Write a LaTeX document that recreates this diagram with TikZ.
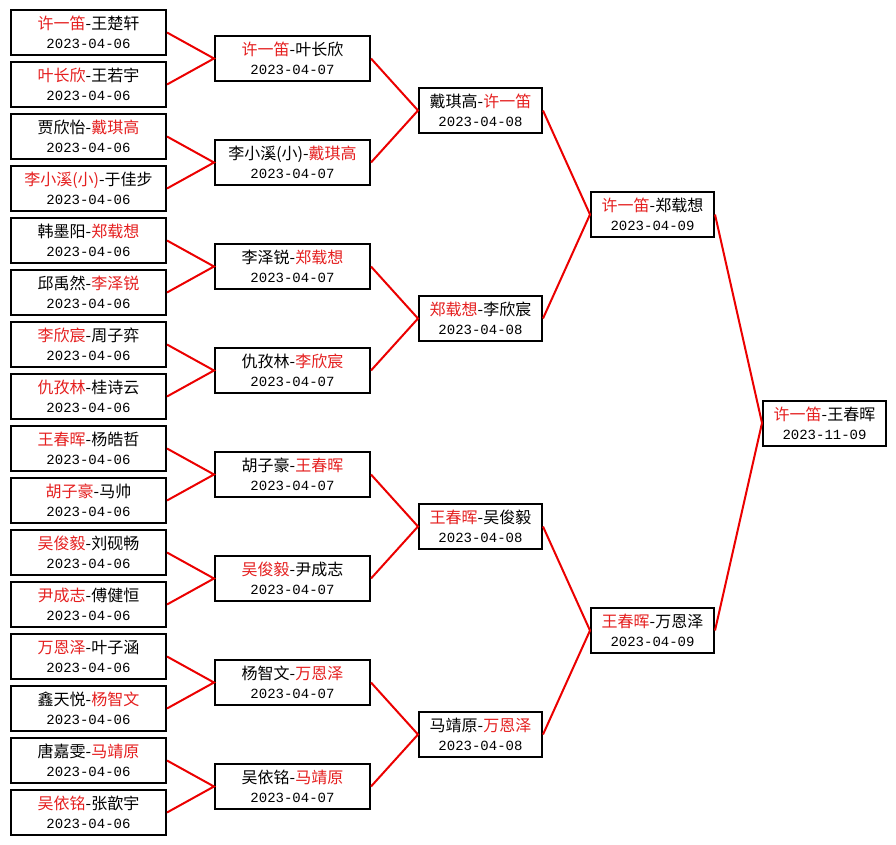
\documentclass[tikz,border=0pt]{standalone}
\usepackage{fontspec}
\setmainfont{Noto Sans CJK SC}
\newfontfamily\datefont{Liberation Mono}

\definecolor{winred}{rgb}{0.90,0.12,0.12}
\definecolor{linkred}{rgb}{0.92,0,0}

\newcommand{\winner}[1]{{\color{winred}#1}}
\newcommand{\gdate}[1]{{\datefont\fontsize{10.5}{14}\selectfont #1}}

\tikzset{every picture/.style={line width=0.75pt}}
\tikzset{
  game/.style={draw, line width=1.5pt, fill=white, inner sep=0pt, align=center,
    minimum height=33.75pt, font=\fontsize{12}{14}\selectfont},
  wide/.style={game, minimum width=116.25pt},
  narrow/.style={game, minimum width=92.25pt},
  link/.style={draw=linkred, line width=1.5pt}
}

\begin{document}
\begin{tikzpicture}[x=0.75pt,y=0.75pt,yscale=-1,xscale=1]
\useasboundingbox (0,0) rectangle (896,845); %set diagram size 896 x 845

% Round 1
\node [wide] (r1n1) at (88.5,32.5) {\winner{许一笛}-王楚轩\\\gdate{2023-04-06}};
\node [wide] (r1n2) at (88.5,84.5) {\winner{叶长欣}-王若宇\\\gdate{2023-04-06}};
\node [wide] (r1n3) at (88.5,136.5) {贾欣怡-\winner{戴琪高}\\\gdate{2023-04-06}};
\node [wide] (r1n4) at (88.5,188.5) {\winner{李小溪(小)}-于佳步\\\gdate{2023-04-06}};
\node [wide] (r1n5) at (88.5,240.5) {韩墨阳-\winner{郑载想}\\\gdate{2023-04-06}};
\node [wide] (r1n6) at (88.5,292.5) {邱禹然-\winner{李泽锐}\\\gdate{2023-04-06}};
\node [wide] (r1n7) at (88.5,344.5) {\winner{李欣宸}-周子弈\\\gdate{2023-04-06}};
\node [wide] (r1n8) at (88.5,396.5) {\winner{仇孜林}-桂诗云\\\gdate{2023-04-06}};
\node [wide] (r1n9) at (88.5,448.5) {\winner{王春晖}-杨皓哲\\\gdate{2023-04-06}};
\node [wide] (r1n10) at (88.5,500.5) {\winner{胡子豪}-马帅\\\gdate{2023-04-06}};
\node [wide] (r1n11) at (88.5,552.5) {\winner{吴俊毅}-刘砚畅\\\gdate{2023-04-06}};
\node [wide] (r1n12) at (88.5,604.5) {\winner{尹成志}-傅健恒\\\gdate{2023-04-06}};
\node [wide] (r1n13) at (88.5,656.5) {\winner{万恩泽}-叶子涵\\\gdate{2023-04-06}};
\node [wide] (r1n14) at (88.5,708.5) {鑫天悦-\winner{杨智文}\\\gdate{2023-04-06}};
\node [wide] (r1n15) at (88.5,760.5) {唐嘉雯-\winner{马靖原}\\\gdate{2023-04-06}};
\node [wide] (r1n16) at (88.5,812.5) {\winner{吴依铭}-张歆宇\\\gdate{2023-04-06}};

% Round 2
\node [wide] (r2n1) at (292.5,58.5) {\winner{许一笛}-叶长欣\\\gdate{2023-04-07}};
\node [wide] (r2n2) at (292.5,162.5) {李小溪(小)-\winner{戴琪高}\\\gdate{2023-04-07}};
\node [wide] (r2n3) at (292.5,266.5) {李泽锐-\winner{郑载想}\\\gdate{2023-04-07}};
\node [wide] (r2n4) at (292.5,370.5) {仇孜林-\winner{李欣宸}\\\gdate{2023-04-07}};
\node [wide] (r2n5) at (292.5,474.5) {胡子豪-\winner{王春晖}\\\gdate{2023-04-07}};
\node [wide] (r2n6) at (292.5,578.5) {\winner{吴俊毅}-尹成志\\\gdate{2023-04-07}};
\node [wide] (r2n7) at (292.5,682.5) {杨智文-\winner{万恩泽}\\\gdate{2023-04-07}};
\node [wide] (r2n8) at (292.5,786.5) {吴依铭-\winner{马靖原}\\\gdate{2023-04-07}};

% Round 3
\node [narrow] (r3n1) at (480.5,110.5) {戴琪高-\winner{许一笛}\\\gdate{2023-04-08}};
\node [narrow] (r3n2) at (480.5,318.5) {\winner{郑载想}-李欣宸\\\gdate{2023-04-08}};
\node [narrow] (r3n3) at (480.5,526.5) {\winner{王春晖}-吴俊毅\\\gdate{2023-04-08}};
\node [narrow] (r3n4) at (480.5,734.5) {马靖原-\winner{万恩泽}\\\gdate{2023-04-08}};

% Round 4
\node [narrow] (r4n1) at (652.5,214.5) {\winner{许一笛}-郑载想\\\gdate{2023-04-09}};
\node [narrow] (r4n2) at (652.5,630.5) {\winner{王春晖}-万恩泽\\\gdate{2023-04-09}};

% Final
\node [narrow] (fin) at (824.5,423) {\winner{许一笛}-王春晖\\\gdate{2023-11-09}};

%Straight Lines: round 1 -> round 2
\draw [link] (r1n1.east) -- (r2n1.west) -- (r1n2.east) ;
\draw [link] (r1n3.east) -- (r2n2.west) -- (r1n4.east) ;
\draw [link] (r1n5.east) -- (r2n3.west) -- (r1n6.east) ;
\draw [link] (r1n7.east) -- (r2n4.west) -- (r1n8.east) ;
\draw [link] (r1n9.east) -- (r2n5.west) -- (r1n10.east) ;
\draw [link] (r1n11.east) -- (r2n6.west) -- (r1n12.east) ;
\draw [link] (r1n13.east) -- (r2n7.west) -- (r1n14.east) ;
\draw [link] (r1n15.east) -- (r2n8.west) -- (r1n16.east) ;

%Straight Lines: round 2 -> round 3
\draw [link] (r2n1.east) -- (r3n1.west) -- (r2n2.east) ;
\draw [link] (r2n3.east) -- (r3n2.west) -- (r2n4.east) ;
\draw [link] (r2n5.east) -- (r3n3.west) -- (r2n6.east) ;
\draw [link] (r2n7.east) -- (r3n4.west) -- (r2n8.east) ;

%Straight Lines: round 3 -> round 4
\draw [link] (r3n1.east) -- (r4n1.west) -- (r3n2.east) ;
\draw [link] (r3n3.east) -- (r4n2.west) -- (r3n4.east) ;

%Straight Lines: round 4 -> final
\draw [link] (r4n1.east) -- (fin.west) -- (r4n2.east) ;

\end{tikzpicture}
\end{document}
